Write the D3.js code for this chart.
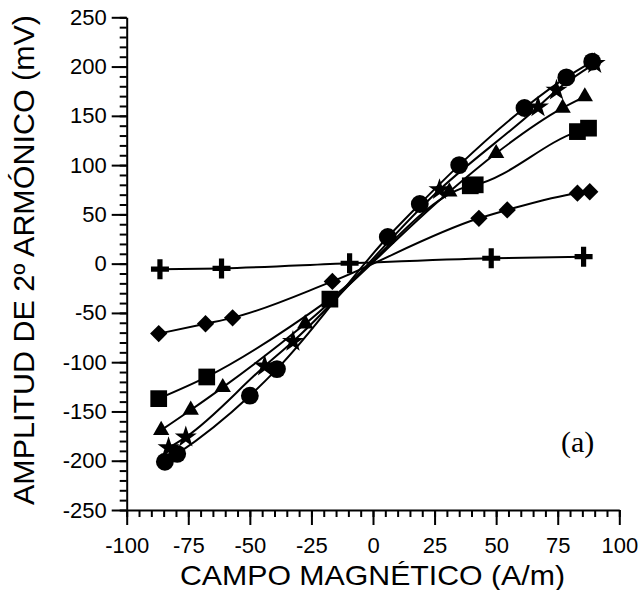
<!DOCTYPE html>
<html>
<head>
<meta charset="utf-8">
<script src="https://cdn.jsdelivr.net/npm/d3@7/dist/d3.min.js"></script>
<style>
  body { margin: 0; background: #fff; }
  svg { display: block; }
  .axis text { font-family: "Liberation Sans", Arial, sans-serif; fill: #000; }
  .axis path, .axis line { stroke: #000; stroke-width: 2px; }
</style>
</head>
<body>
<svg id="chart" width="639" height="590"></svg>
<script>
// tick values
const xTicks = [-100, -75, -50, -25, 0, 25, 50, 75, 100]
const yTicks = [-250, -200, -150, -100, -50, 0, 50, 100, 150, 200, 250]

// series (A/m, mV)
const crossX = [-86.5, -61.5, -9.5, 48, 85.5]
const crossY = [-5.6, -4.8, 0.4, 5.5, 7.1]

const diamondX = [-87, -68, -57, -16.5, 43, 54.5, 83, 88]
const diamondY = [-71, -61, -55, -18, 46, 54.5, 71.5, 73]

const squareX = [-87, -67.5, -17.5, 39.5, 41.5, 83, 87.5]
const squareY = [-137, -115, -36, 79, 80, 134, 137.5]

const triangleX = [-86, -74, -61, -27.5, 31, 50, 77, 86]
const triangleY = [-169, -148.5, -125.5, -61, 73, 112, 158, 169.5]

const starX = [-83, -76, -44, -32.5, 27, 67, 74.5, 90]
const starY = [-187, -176, -104, -79, 75, 159, 176, 203]

const circleX = [-84.5, -79.5, -50, -39, 6, 19, 35, 61.5, 78.5, 89]
const circleY = [-201, -193, -134, -107, 27, 60.5, 100, 158, 189, 205]

const series = [
  { name: "cross", xs: crossX, ys: crossY },
  { name: "diamond", xs: diamondX, ys: diamondY },
  { name: "square", xs: squareX, ys: squareY },
  { name: "triangle", xs: triangleX, ys: triangleY },
  { name: "star", xs: starX, ys: starY },
  { name: "circle", xs: circleX, ys: circleY }
]

let svg = d3.select("#chart")

let margin = { top: 17.3, right: 19.7, bottom: 80, left: 126.7 }
let width = 639, height = 590

let x = d3.scaleLinear()
    .domain([-100, 100])
    .range([margin.left, width - margin.right])

let y = d3.scaleLinear()
    .domain([-250, 250])
    .range([height - margin.bottom, margin.top])

// plain hyphen minus, like the original
let plain = d => String(d)

// minor ticks first
svg.append("g")
    .attr("class", "axis")
    .attr("transform", `translate(0,${y(-250)})`)
    .call(d3.axisBottom(x).tickValues(d3.range(-100, 101, 5)).tickSize(7).tickFormat(""))
    .call(g => g.select(".domain").remove())

svg.append("g")
    .attr("class", "axis")
    .attr("transform", `translate(${x(-100)},0)`)
    .call(d3.axisLeft(y).tickValues(d3.range(-250, 251, 10)).tickSize(7).tickFormat(""))
    .call(g => g.select(".domain").remove())

// major ticks + labels
let xAxis = svg.append("g")
    .attr("class", "axis")
    .attr("transform", `translate(0,${y(-250)})`)
    .call(d3.axisBottom(x).tickValues(xTicks).tickSize(15).tickSizeOuter(0).tickPadding(12).tickFormat(plain))
xAxis.selectAll("text").style("font-size", "22px")

let yAxis = svg.append("g")
    .attr("class", "axis")
    .attr("transform", `translate(${x(-100)},0)`)
    .call(d3.axisLeft(y).tickValues(yTicks).tickSize(15).tickSizeOuter(0).tickPadding(5).tickFormat(plain))
yAxis.selectAll("text").style("font-size", "22px")

// lines
let line = d3.line()
    .x(d => x(d[0]))
    .y(d => y(d[1]))
    .curve(d3.curveMonotoneX)

series.forEach(s => {
  let pts = s.xs.map((v, i) => [v, s.ys[i]])
  svg.append("path")
      .attr("d", line(pts))
      .style("fill", "none")
      .style("stroke", "#000")
      .style("stroke-width", "2px")
})

// markers
function crossPath() {
  let w = 9, h = 10, t = 2.6
  return `M${-w},${-t}H${-t}V${-h}H${t}V${-t}H${w}V${t}H${t}V${h}H${-t}V${t}H${-w}Z`
}

let symbolFor = {
  cross: () => crossPath(),
  diamond: () => d3.symbol(d3.symbolSquare, 150)(),
  square: () => d3.symbol(d3.symbolSquare, 280)(),
  triangle: () => d3.symbol(d3.symbolTriangle, 115)(),
  star: () => d3.symbol(d3.symbolStar, 150)(),
  circle: () => d3.symbol(d3.symbolCircle, 250)()
}

series.forEach(s => {
  let pts = s.xs.map((v, i) => [v, s.ys[i]])
  svg.append("g")
    .selectAll("path")
    .data(pts)
    .join("path")
      .attr("d", symbolFor[s.name]())
      .attr("transform", d => `translate(${x(d[0])},${y(d[1])})` + (s.name == "diamond" ? " rotate(45)" : ""))
      .style("fill", "#000")
})

// axis titles
svg.append("text")
    .attr("text-anchor", "middle")
    .attr("transform", `translate(34,260) rotate(-90)`)
    .attr("textLength", 490)
    .attr("lengthAdjust", "spacingAndGlyphs")
    .style("font-family", "'Liberation Sans', Arial, sans-serif")
    .style("font-size", "29px")
    .text("AMPLITUD DE 2º ARMÓNICO (mV)")

svg.append("text")
    .attr("text-anchor", "middle")
    .attr("x", 372.5)
    .attr("y", 585)
    .attr("textLength", 385)
    .attr("lengthAdjust", "spacingAndGlyphs")
    .style("font-family", "'Liberation Sans', Arial, sans-serif")
    .style("font-size", "28px")
    .text("CAMPO MAGNÉTICO (A/m)")

// panel label
svg.append("text")
    .attr("x", 561)
    .attr("y", 452)
    .style("font-family", "'Liberation Serif', 'Times New Roman', serif")
    .style("font-size", "30px")
    .text("(a)")
</script>
</body>
</html>
